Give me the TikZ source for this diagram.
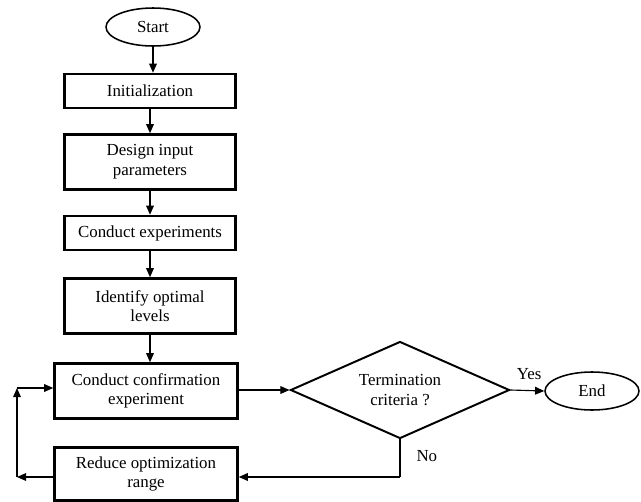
\documentclass[tikz,border=0pt]{standalone}
\usepackage{fontspec}
\setmainfont{Liberation Serif}
\usetikzlibrary{shapes.geometric,arrows.meta}
\begin{document}
\begin{tikzpicture}[x=0.025cm,y=-0.025cm,
  font=\fontsize{12}{14}\selectfont,
  procbox/.style={draw,line width=1.8pt,minimum width=171*0.025cm,minimum height=34*0.025cm,align=center,inner sep=1pt},
  tallbox/.style={procbox,minimum width=183*0.025cm,minimum height=55*0.025cm},
  term/.style={draw,ellipse,line width=1.1pt,minimum width=94*0.025cm,minimum height=38*0.025cm,inner sep=0pt},
  decision/.style={draw,diamond,line width=1.4pt,aspect=2.26,minimum width=219*0.025cm,minimum height=97*0.025cm,inner sep=0pt,align=center},
  arr/.style={-{Triangle[length=6.5pt,width=5.5pt]},line width=0.8pt}]
\useasboundingbox (0,0) rectangle (641,502);

\node[term] (start) at (153,27) {Start};
\node[procbox] (init) at (150,91) {Initialization};
\node[procbox,minimum height=55*0.025cm] (design) at (150,162) {Design input\\parameters};
\node[procbox] (conduct) at (150,233) {Conduct experiments};
\node[procbox,minimum height=55*0.025cm] (identify) at (150,306) {Identify optimal\\levels};
\node[tallbox] (confirm) at (146,391) {Conduct confirmation\\experiment};
\node[tallbox,minimum height=53*0.025cm] (reduce) at (146,474) {Reduce optimization\\range};
\node[decision] (crit) at (400,390) {Termination\\criteria ?};
\node[term] (end) at (592,391) {End};

\coordinate (turn) at (400,477);
\coordinate (lowleft) at (17,477);
\coordinate (upleft) at (17,388);

\draw[arr] (start.south) -- (start.south |- init.north);
\draw[arr] (init) -- (design);
\draw[arr] (design) -- (conduct);
\draw[arr] (conduct) -- (identify);
\draw[arr] (identify.south) -- (identify.south |- confirm.north);
\draw[arr] (confirm.east |- crit.west) -- (crit.west);
\draw[arr] (crit.east) -- node[above=4pt,pos=0.55] (yes) {Yes} (end.west);
\draw[line width=0.8pt] (crit.south) -- node[right=8pt,pos=0.45] (no) {No} (turn);
\draw[arr] (turn) -- (reduce.east |- turn);
\draw[arr] (reduce.west |- lowleft) -- (lowleft);
\draw[arr] (lowleft) -- (upleft);
\draw[arr] (upleft) -- (confirm.west |- upleft);
\end{tikzpicture}
\end{document}
